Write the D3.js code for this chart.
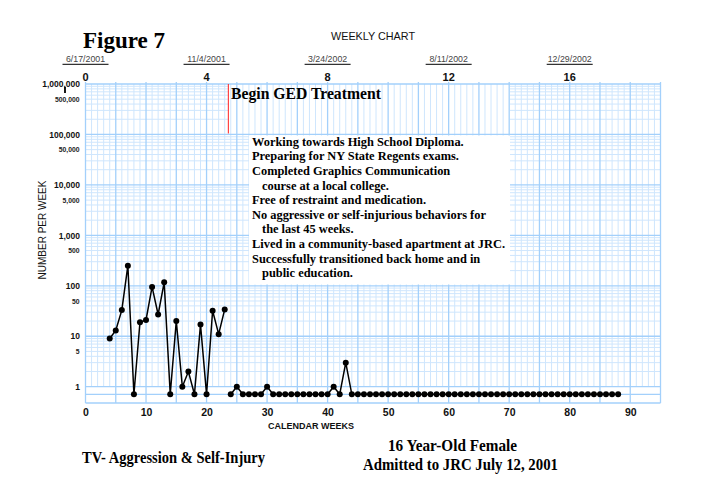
<!DOCTYPE html>
<html>
<head>
<meta charset="utf-8">
<script src="https://cdn.jsdelivr.net/npm/d3@7"></script>
<style>
  body { margin: 0; background: #fff; }
  svg { display: block; }
  .serif { font-family: "Liberation Serif", "Times New Roman", serif; font-weight: bold; fill: #000; }
  .sans { font-family: "Liberation Sans", Arial, sans-serif; }
</style>
</head>
<body>
<div id="chart"></div>
<script>
// Baseline phase, weeks 4..23 (0 = no behaviors that week)
const baselineStart = 4;
const baselineValues = [9, 13, 33, 250, 0, 19, 21, 95, 27, 117, 0, 20, 1, 2, 0, 17, 0, 32, 11, 34];

// GED treatment phase, weeks 24..88
const treatmentStart = 24;
const treatmentValues = [
  0, 1, 0, 0, 0, 0, 1, 0, 0, 0, 0, 0, 0, 0, 0, 0, 0, 1, 0, 3, 0, 0,
  0, 0, 0, 0, 0, 0, 0, 0, 0, 0, 0, 0, 0, 0, 0, 0, 0, 0, 0, 0, 0, 0,
  0, 0, 0, 0, 0, 0, 0, 0, 0, 0, 0, 0, 0, 0, 0, 0, 0, 0, 0, 0, 0
];

const phaseChangeWeek = 23.6;

const xTicks = [0, 10, 20, 30, 40, 50, 60, 70, 80, 90];
const topTickWeeks = [0, 20, 40, 60, 80];
const topTickLabels = ['0', '4', '8', '12', '16'];
const topDates = ['6/17/2001', '11/4/2001', '3/24/2002', '8/11/2002', '12/29/2002'];
const yMajor = [1, 10, 100, 1000, 10000, 100000, 1000000];
const yMinorLabels = [5, 50, 500, 5000, 50000, 500000];

const noteLines = [
  { text: 'Working towards High School Diploma.', indent: false },
  { text: 'Preparing for NY State Regents exams.', indent: false },
  { text: 'Completed Graphics Communication', indent: false },
  { text: 'course at a local college.', indent: true },
  { text: 'Free of restraint and medication.', indent: false },
  { text: 'No aggressive or self-injurious behaviors for', indent: false },
  { text: 'the last 45 weeks.', indent: true },
  { text: 'Lived in a community-based apartment at JRC.', indent: false },
  { text: 'Successfully transitioned back home and  in', indent: false },
  { text: 'public education.', indent: true }
];

const width = 708, height = 502;
const majorColor = '#a3d0fb', minorColor = '#cfe6fd';

const svg = d3.select('#chart').append('svg')
  .attr('width', width).attr('height', height)
  .attr('viewBox', `0 0 ${width} ${height}`);

const x = d3.scaleLinear().domain([0, 95]).range([85.5, 660.5]);
const y = d3.scaleLog().domain([1, 1e6]).range([386.7, 84]);
const zeroY = 394.3;
const bottomY = 403;
const yPos = (v) => (v === 0 ? zeroY : y(v));

const grid = svg.append('g');

// horizontal minor log lines
const minorH = [];
for (let d = 1; d < 1e6; d *= 10) {
  for (let k = 2; k <= 9; k++) minorH.push(d * k);
}
grid.selectAll('.hminor').data(minorH).enter().append('line')
  .attr('x1', x(0)).attr('x2', x(95))
  .attr('y1', (d) => y(d)).attr('y2', (d) => y(d))
  .attr('stroke', minorColor).attr('stroke-width', 1);

// white patch behind the phase label (hides horizontal minor lines)
grid.append('rect')
  .attr('x', x(phaseChangeWeek)).attr('y', 85)
  .attr('width', 510 - x(phaseChangeWeek)).attr('height', 49)
  .attr('fill', '#fff');

// vertical weekly lines
const weeks = d3.range(0, 96);
grid.selectAll('.vminor').data(weeks.filter((w) => w % 5 !== 0)).enter().append('line')
  .attr('x1', (d) => x(d)).attr('x2', (d) => x(d))
  .attr('y1', y(1e6)).attr('y2', y(1))
  .attr('stroke', minorColor).attr('stroke-width', 1);

// horizontal major lines
grid.selectAll('.hmajor').data(yMajor).enter().append('line')
  .attr('x1', x(0)).attr('x2', x(95))
  .attr('y1', (d) => y(d)).attr('y2', (d) => y(d))
  .attr('stroke', majorColor).attr('stroke-width', 1.3);

[zeroY, bottomY].forEach((yy) => {
  grid.append('line')
    .attr('x1', x(0)).attr('x2', x(95))
    .attr('y1', yy).attr('y2', yy)
    .attr('stroke', majorColor).attr('stroke-width', 1.3);
});

grid.selectAll('.vmajor').data(weeks.filter((w) => w % 5 === 0)).enter().append('line')
  .attr('x1', (d) => x(d)).attr('x2', (d) => x(d))
  .attr('y1', y(1e6) - 2).attr('y2', bottomY)
  .attr('stroke', majorColor).attr('stroke-width', 1.3);

// note box
svg.append('rect')
  .attr('x', 249).attr('y', 135.5).attr('width', 261).attr('height', 149)
  .attr('fill', '#fff');

svg.append('g').attr('class', 'serif')
  .selectAll('text').data(noteLines).enter().append('text')
  .attr('x', (d) => (d.indent ? 262 : 252))
  .attr('y', (d, i) => 145.8 + i * 14.6)
  .attr('font-size', 12.4)
  .text((d) => d.text);

// phase change line and label
svg.append('line')
  .attr('x1', x(phaseChangeWeek)).attr('x2', x(phaseChangeWeek))
  .attr('y1', y(1e6)).attr('y2', y(1e5) - 1)
  .attr('stroke', '#ff2020').attr('stroke-width', 1);

svg.append('text').attr('class', 'serif')
  .attr('x', 231).attr('y', 98.5)
  .attr('font-size', 15.7)
  .text('Begin GED Treatment');

// data
const baseline = baselineValues.map((v, i) => ({ week: baselineStart + i, value: v }));
const treatment = treatmentValues.map((v, i) => ({ week: treatmentStart + i, value: v }));

const line = d3.line().x((d) => x(d.week)).y((d) => yPos(d.value));

[baseline, treatment].forEach((phase) => {
  svg.append('path')
    .datum(phase)
    .attr('d', line)
    .attr('fill', 'none')
    .attr('stroke', '#000')
    .attr('stroke-width', 1.5);
  svg.append('g').selectAll('circle').data(phase).enter().append('circle')
    .attr('cx', (d) => x(d.week))
    .attr('cy', (d) => yPos(d.value))
    .attr('r', 3)
    .attr('fill', '#000');
});

// bottom axis
const xAxis = svg.append('g')
  .attr('transform', `translate(0,${bottomY})`)
  .call(d3.axisBottom(x).tickValues(xTicks).tickSize(0).tickPadding(6));
xAxis.select('.domain').remove();
xAxis.selectAll('text')
  .attr('font-family', '"Liberation Sans", Arial, sans-serif')
  .attr('font-size', 10.5).attr('font-weight', 'bold').attr('fill', '#111');

svg.append('text').attr('class', 'sans')
  .attr('x', 311).attr('y', 428.5)
  .attr('text-anchor', 'middle')
  .attr('font-size', 9).attr('font-weight', 'bold').attr('fill', '#111')
  .text('CALENDAR WEEKS');

// left axis
const yAxis = svg.append('g')
  .attr('transform', 'translate(80,0)')
  .call(d3.axisLeft(y).tickValues(yMajor).tickFormat(d3.format(',')).tickSize(0).tickPadding(0));
yAxis.select('.domain').remove();
yAxis.selectAll('text')
  .attr('font-family', '"Liberation Sans", Arial, sans-serif')
  .attr('font-size', 8.5).attr('font-weight', 'bold').attr('fill', '#111');

const yAxisMinor = svg.append('g')
  .attr('transform', 'translate(79.5,0)')
  .call(d3.axisLeft(y).tickValues(yMinorLabels).tickFormat(d3.format(',')).tickSize(0).tickPadding(0));
yAxisMinor.select('.domain').remove();
yAxisMinor.selectAll('text')
  .attr('font-family', '"Liberation Sans", Arial, sans-serif')
  .attr('font-size', 6.8).attr('font-weight', 'bold').attr('fill', '#222');

svg.append('line')
  .attr('x1', 65).attr('x2', 65).attr('y1', 87).attr('y2', 93)
  .attr('stroke', '#000').attr('stroke-width', 1.8);

svg.append('text').attr('class', 'sans')
  .attr('transform', 'translate(46,230) rotate(-90)')
  .attr('text-anchor', 'middle')
  .attr('font-size', 10).attr('fill', '#111')
  .text('NUMBER PER WEEK');

// top axis: weeks since start (in 5-week units) and dates
const topAxis = svg.append('g');
topAxis.selectAll('.tnum').data(topTickWeeks).enter().append('text')
  .attr('class', 'sans')
  .attr('x', (d) => x(d)).attr('y', 80.5)
  .attr('text-anchor', 'middle')
  .attr('font-size', 11).attr('font-weight', 'bold').attr('fill', '#111')
  .text((d, i) => topTickLabels[i]);

topAxis.selectAll('.tdate').data(topTickWeeks).enter().append('text')
  .attr('class', 'sans')
  .attr('x', (d) => x(d)).attr('y', 62)
  .attr('text-anchor', 'middle')
  .attr('font-size', 8.8).attr('fill', '#444')
  .text((d, i) => topDates[i]);

topAxis.selectAll('.tline').data(topTickWeeks).enter().append('line')
  .attr('x1', (d) => x(d) - 23).attr('x2', (d) => x(d) + 23)
  .attr('y1', 64.3).attr('y2', 64.3)
  .attr('stroke', '#333').attr('stroke-width', 1.2);

svg.append('text').attr('class', 'sans')
  .attr('x', 373).attr('y', 40)
  .attr('text-anchor', 'middle')
  .attr('font-size', 10.8).attr('fill', '#111')
  .text('WEEKLY CHART');

// titles
svg.append('text').attr('class', 'serif')
  .attr('x', 83).attr('y', 48)
  .attr('font-size', 23)
  .text('Figure 7');

svg.append('text').attr('class', 'serif')
  .attr('x', 82).attr('y', 463.3)
  .attr('font-size', 16.5)
  .attr('textLength', 183).attr('lengthAdjust', 'spacingAndGlyphs')
  .text('TV- Aggression & Self-Injury');

svg.append('text').attr('class', 'serif')
  .attr('x', 388).attr('y', 450.7)
  .attr('font-size', 17)
  .attr('textLength', 129).attr('lengthAdjust', 'spacingAndGlyphs')
  .text('16 Year-Old Female');

svg.append('text').attr('class', 'serif')
  .attr('x', 363).attr('y', 470)
  .attr('font-size', 17)
  .attr('textLength', 195).attr('lengthAdjust', 'spacingAndGlyphs')
  .text('Admitted to JRC July 12, 2001');
</script>
</body>
</html>
